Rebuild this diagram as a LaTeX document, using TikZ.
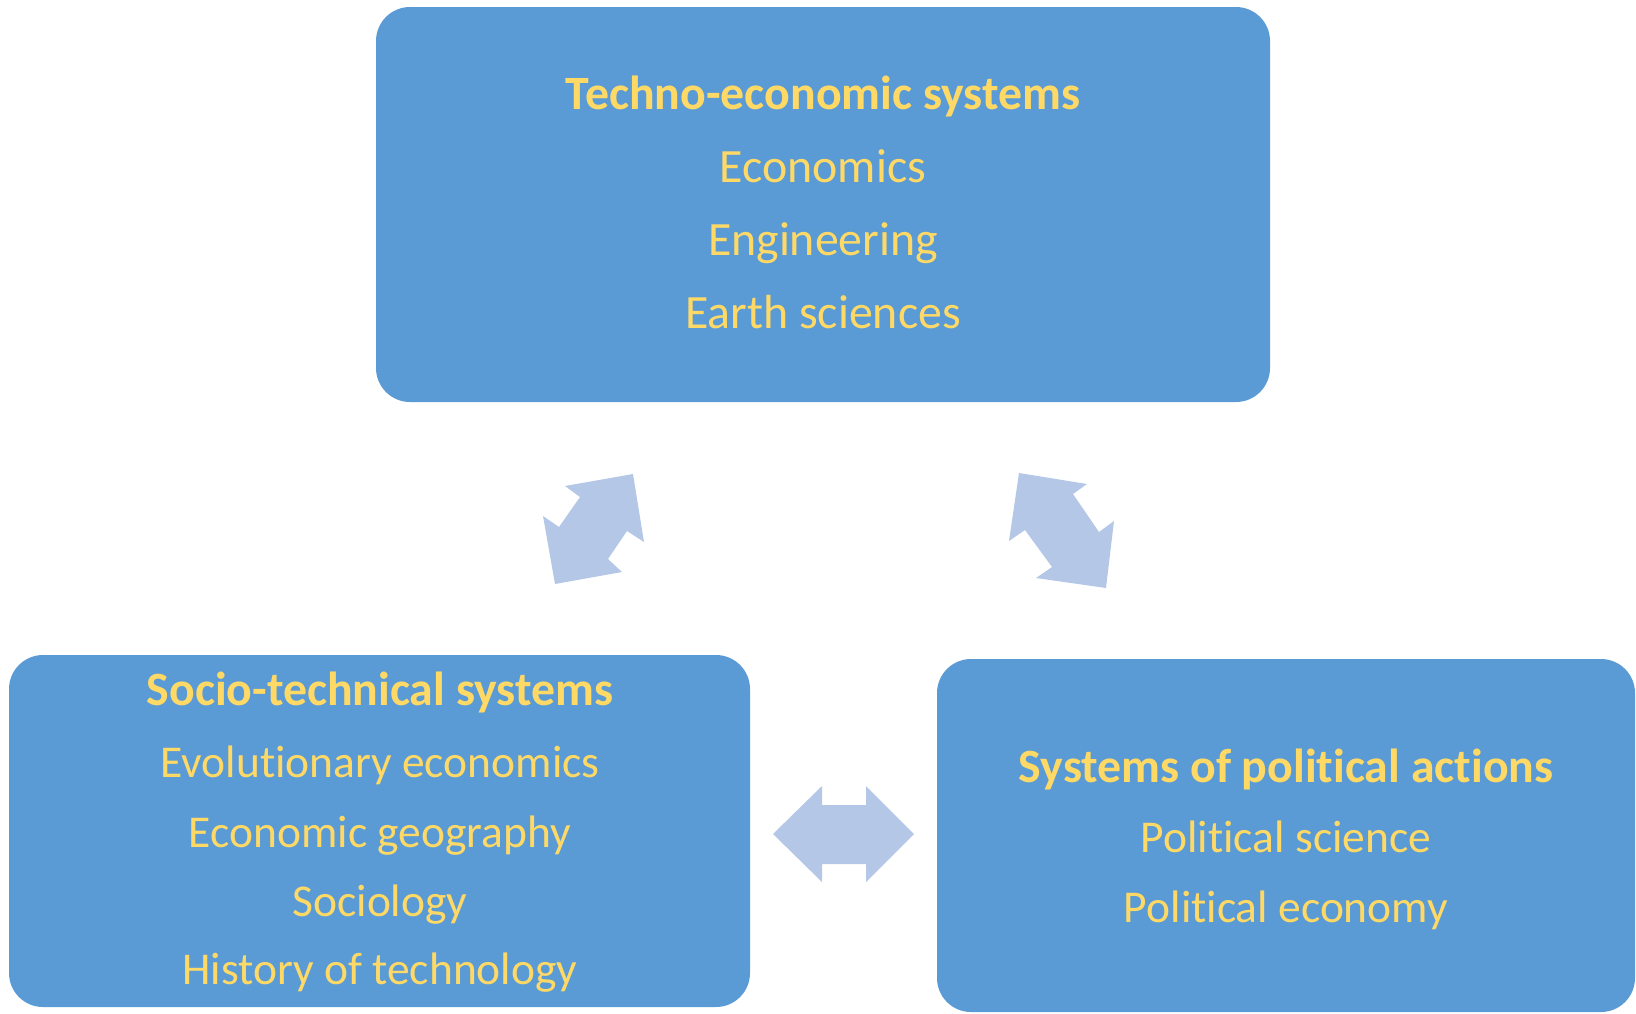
\documentclass[tikz,border=0pt]{standalone}
\usepackage{fontspec}
\setmainfont{Carlito}[Ligatures=NoCommon]
\definecolor{boxblue}{HTML}{5B9BD5}
\definecolor{gold}{HTML}{FFD966}
\definecolor{arrowblue}{HTML}{B4C7E7}
\begin{document}
\begin{tikzpicture}[x=1pt,y=-1pt,
  sysbox/.style={fill=boxblue, draw=none, rounded corners=34pt, inner sep=0pt, rectangle},
  lbl/.style={text=gold, anchor=base, inner sep=0pt, font=\fontsize{47.8}{52}\selectfont},
  slbl/.style={text=gold, anchor=base, inner sep=0pt, font=\fontsize{45.5}{50}\selectfont},
  ttl/.style={lbl, font=\fontsize{47.8}{52}\selectfont\bfseries},
  dblarrow/.style={fill=arrowblue, draw=none}]
\useasboundingbox (0,0) rectangle (1636,1013);
% boxes
\node[sysbox, minimum width=894pt, minimum height=395pt] (top) at (823,204.5) {};
\node[sysbox, minimum width=741pt, minimum height=352pt] (left) at (379.5,831) {};
\node[sysbox, minimum width=698pt, minimum height=353pt] (right) at (1286,835.5) {};
% top text
\node[ttl] (t0) at (823,109) {Techno-economic systems};
\node[lbl] (t1) at (823,182) {Economics};
\node[lbl] (t2) at (823,255) {Engineering};
\node[lbl] (t3) at (823,328) {Earth sciences};
% left text
\node[ttl] (l0) at (380,705) {Socio-technical systems};
\node[slbl] (l1) at (380,777) {Evolutionary economics};
\node[slbl] (l2) at (380,847) {Economic geography};
\node[slbl] (l3) at (380,916) {Sociology};
\node[slbl] (l4) at (380,984) {History of technology};
% right text
\node[ttl] (r0) at (1286,782) {Systems of political actions};
\node[slbl] (r1) at (1286,852) {Political science};
\node[slbl] (r2) at (1286,922) {Political economy};
% arrows
\fill[dblarrow] (565,486) -- (633,474) -- (644,542) -- (627,531) -- (608,559) -- (622,572) -- (555,584) -- (543,516) -- (559,527) -- (580,497) -- cycle;
\fill[dblarrow] (1019,473) -- (1087,484) -- (1073,494) -- (1099,532) -- (1114,521) -- (1106,588) -- (1036,578) -- (1052,567) -- (1025,530) -- (1009,541) -- cycle;
\fill[dblarrow] (773,834) -- (822,786) -- (822,805) -- (866,805) -- (866,786) -- (914,834) -- (866,882) -- (866,864) -- (822,864) -- (822,882) -- cycle;
\end{tikzpicture}
\end{document}
